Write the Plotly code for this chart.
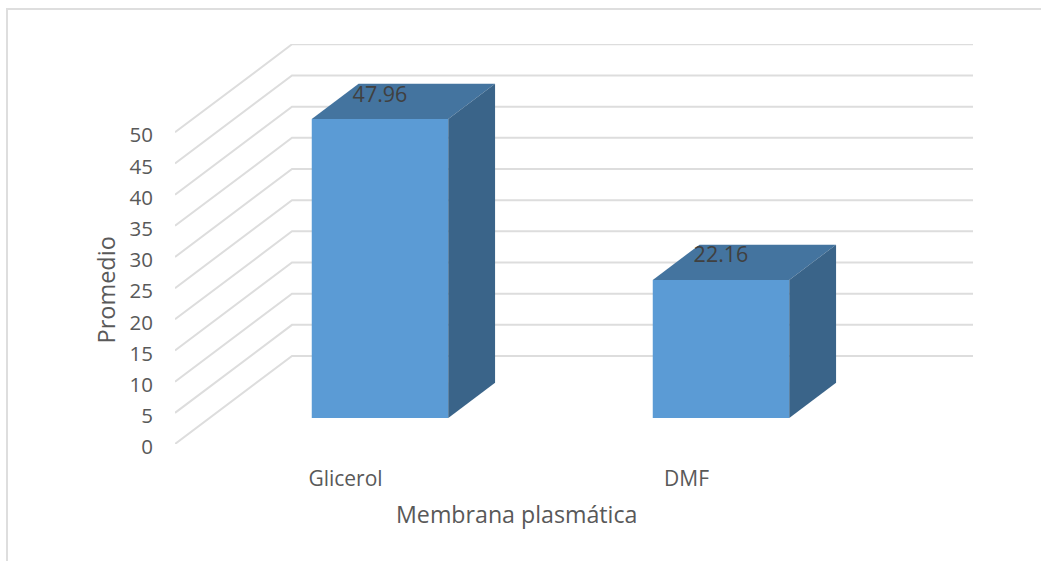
import plotly.graph_objects as go

# Chart values
categories = ["Glicerol", "DMF"]
promedio = [47.96, 22.16]
value_ticks = [0, 5, 10, 15, 20, 25, 30, 35, 40, 45, 50]
x_title = "Membrana plasmática"
y_title = "Promedio"

# Canvas and plot frame
W, H = 1041, 561
M_L, M_R, M_T, M_B = 175, 68, 44, 117
PX_PER_CAT = 341.0
PX_PER_VAL = 6.234

# Oblique projection: how far one unit of depth shifts x and y
DEPTH_X = 117 / PX_PER_CAT
DEPTH_Y = 88 / PX_PER_VAL
BAR_NEAR = 0.295
BAR_FAR = 0.695
BAR_W = 136.5 / PX_PER_CAT

GRID = "#DDDDDD"
FRONT = "#5B9BD5"
TOP = "#44749F"
SIDE = "#3A6489"
TICK_TEXT = "#595959"
FONT = "Open Sans"


def project(cat, val, depth):
    return cat + depth * DEPTH_X, val + depth * DEPTH_Y


positions = list(range(len(categories)))
fig = go.Figure()

# Front faces of the columns
fig.add_trace(go.Bar(
    x=[p + BAR_NEAR * DEPTH_X for p in positions],
    y=promedio,
    base=BAR_NEAR * DEPTH_Y,
    width=BAR_W,
    marker=dict(color=FRONT, line=dict(width=0)),
    hoverinfo="skip",
    showlegend=False,
))

# Top and side faces, projected from the same values
for p, v in zip(positions, promedio):
    left, right = p - BAR_W / 2, p + BAR_W / 2
    corners_top = [project(left, v, BAR_NEAR), project(right, v, BAR_NEAR),
                   project(right, v, BAR_FAR), project(left, v, BAR_FAR)]
    corners_side = [project(right, 0, BAR_NEAR), project(right, v, BAR_NEAR),
                    project(right, v, BAR_FAR), project(right, 0, BAR_FAR)]
    for corners, colour in ((corners_top, TOP), (corners_side, SIDE)):
        xs, ys = zip(*(corners + corners[:1]))
        fig.add_trace(go.Scatter(
            x=xs, y=ys, mode="lines", fill="toself", fillcolor=colour,
            line=dict(width=0, color=colour), hoverinfo="skip", showlegend=False,
        ))

# Value labels sitting on the top faces
mid_depth = (BAR_NEAR + BAR_FAR) / 2
fig.add_trace(go.Scatter(
    x=[p + BAR_NEAR * DEPTH_X for p in positions],
    y=[v + mid_depth * DEPTH_Y + 0.85 for v in promedio],
    mode="text",
    text=[f"{v:.2f}" for v in promedio],
    textposition="middle center",
    textfont=dict(family=FONT, size=21.5, color="#404040"),
    hoverinfo="skip",
    showlegend=False,
))

# Side wall and back wall gridlines, under the columns
x_front, x_back = -0.5, -0.5 + DEPTH_X
x_end = x_back + 2
shapes = []
for t in value_ticks:
    shapes.append(dict(type="path", layer="below", xref="x", yref="y",
                       path=f"M {x_front} {t} L {x_back} {t + DEPTH_Y} L {x_end} {t + DEPTH_Y}",
                       line=dict(color=GRID, width=2)))

# Outer chart frame: only its top and left edges fall inside the canvas
plot_w = W - M_L - M_R
plot_h = H - M_T - M_B


def paper_x(px):
    return (px - M_L) / plot_w


def paper_y(px):
    return 1 - (px - M_T) / plot_h


shapes.append(dict(type="path", layer="below", xref="paper", yref="paper",
                   path=f"M {paper_x(7)} {paper_y(561)} L {paper_x(7)} {paper_y(9)} "
                        f"L {paper_x(1041)} {paper_y(9)}",
                   line=dict(color="#DEDEDE", width=2)))

annotations = [
    dict(xref="paper", yref="paper", x=paper_x(516), y=paper_y(513.5), text=x_title,
         showarrow=False, xanchor="center", yanchor="middle",
         font=dict(family=FONT, size=23.2, color=TICK_TEXT)),
    dict(xref="paper", yref="paper", x=paper_x(105.5), y=paper_y(290), text=y_title,
         showarrow=False, textangle=-90, xanchor="center", yanchor="middle",
         font=dict(family=FONT, size=23.5, color=TICK_TEXT)),
]

fig.update_layout(
    width=W, height=H,
    margin=dict(l=M_L, r=M_R, t=M_T, b=M_B, autoexpand=False),
    paper_bgcolor="white", plot_bgcolor="rgba(0,0,0,0)",
    showlegend=False,
    shapes=shapes,
    annotations=annotations,
    xaxis=dict(
        range=[-0.5, -0.5 + plot_w / PX_PER_CAT],
        tickvals=positions, ticktext=categories,
        showgrid=False, zeroline=False, showline=False, ticks="",
        ticklabelstandoff=20,
        tickfont=dict(family=FONT, size=21, color=TICK_TEXT),
    ),
    yaxis=dict(
        range=[0, plot_h / PX_PER_VAL],
        tickvals=value_ticks,
        showgrid=False, zeroline=False, showline=False, ticks="",
        ticklabelstandoff=21,
        ticklabelshift=3,
        tickfont=dict(family=FONT, size=20.5, color=TICK_TEXT),
    ),
)

fig.write_html("out.html")
